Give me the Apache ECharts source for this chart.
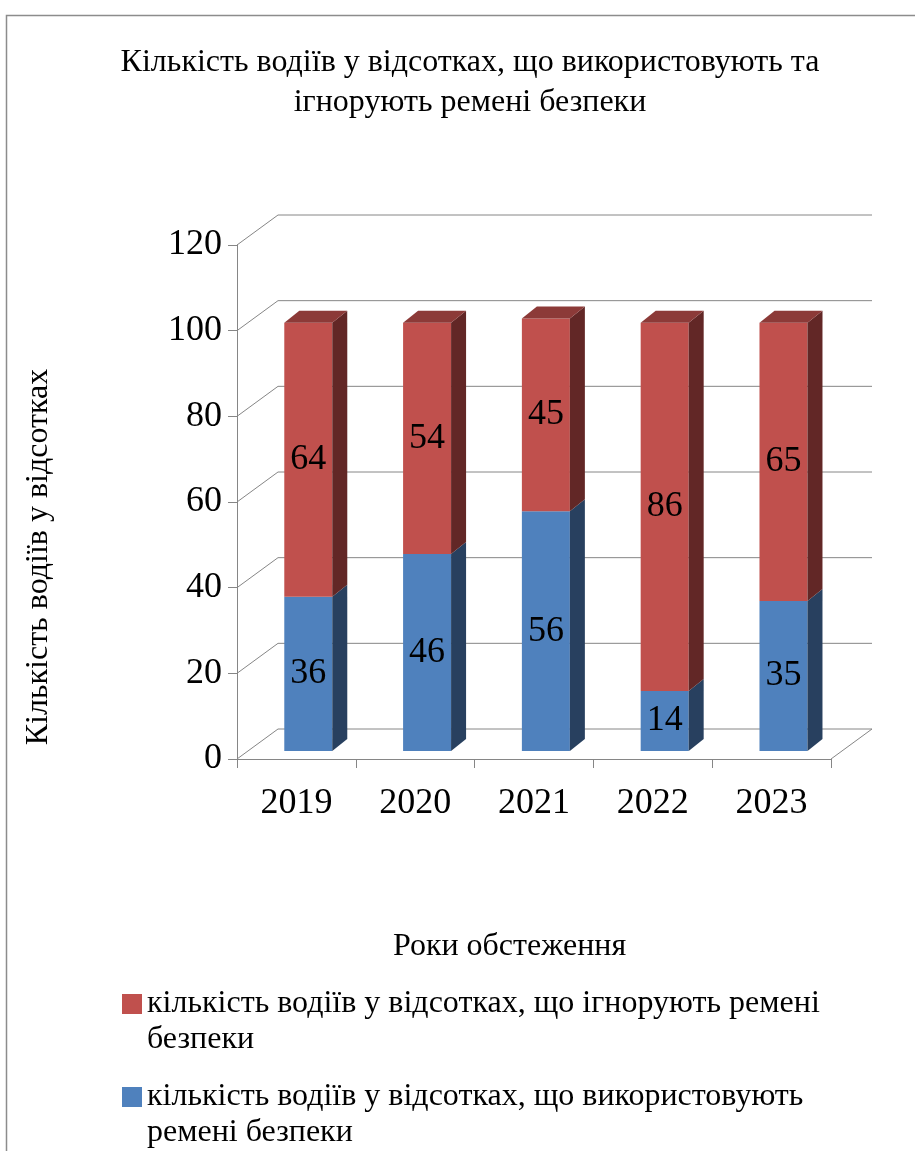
<!DOCTYPE html>
<html><head><meta charset="utf-8">
<script src="https://cdn.jsdelivr.net/npm/echarts@6/dist/echarts.min.js"></script>
<style>html,body{margin:0;padding:0;background:#fff}#c{width:915px;height:1151px}</style>
</head><body><div id="c"></div>
<script>
const categories = ['2019', '2020', '2021', '2022', '2023'];
const usingBelts = [36, 46, 56, 14, 35];
const ignoringBelts = [64, 54, 45, 86, 65];
const yTicks = [0, 20, 40, 60, 80, 100, 120];
const nameIgnore = 'кількість водіїв у відсотках, що ігнорують ремені безпеки';
const nameUse = 'кількість водіїв у відсотках, що використовують ремені безпеки';
const legendWrapAfter = { [nameIgnore]: 'ремені', [nameUse]: 'використовують' };
const titleText = 'Кількість водіїв у відсотках, що використовують та\nігнорують ремені безпеки';
const yName = 'Кількість водіїв у відсотках';
const xName = 'Роки обстеження';

const FONT = '"Liberation Serif", "Times New Roman", serif';
const GRID_COLOR = '#868686';
const WALL_DX = 41, WALL_DY = -30;

const blueData = categories.map((c, i) => [i, 0, usingBelts[i], usingBelts[i], 0]);
const redData = categories.map((c, i) => [i, usingBelts[i], usingBelts[i] + ignoringBelts[i], ignoringBelts[i], 1]);
const wallData = yTicks.map(v => [0, v]);

function barRenderer(front, side, top) {
  return function (params, api) {
    const cat = api.value(0), lo = api.value(1), hi = api.value(2), val = api.value(3), isTop = api.value(4);
    const pLo = api.coord([cat, lo]);
    const pHi = api.coord([cat, hi]);
    const band = api.size([1, 0])[0];
    const w = band * 0.404;
    const ox = band * 0.1, oy = -8;
    const dx = 15, dy = -12;
    const xL = pLo[0] - w / 2 + ox, xR = xL + w;
    const yB = pLo[1] + oy, yT = pHi[1] + oy;
    const children = [
      { type: 'rect', shape: { x: xL, y: yT, width: w, height: yB - yT }, style: { fill: front } },
      { type: 'polygon', shape: { points: [[xR, yT], [xR + dx, yT + dy], [xR + dx, yB + dy], [xR, yB]] }, style: { fill: side } }
    ];
    if (isTop) {
      children.push({ type: 'polygon', shape: { points: [[xL, yT], [xR, yT], [xR + dx, yT + dy], [xL + dx, yT + dy]] }, style: { fill: top } });
    }
    children.push({
      type: 'text',
      style: { text: String(val), x: (xL + xR) / 2, y: (yT + yB) / 2, align: 'center', verticalAlign: 'middle', fill: '#000', font: '36px ' + FONT }
    });
    return { type: 'group', children };
  };
}

function wallRenderer(params, api) {
  const cs = params.coordSys;
  const v = api.value(1);
  const y = api.coord([0, v])[1];
  const x0 = cs.x, x1 = cs.x + cs.width;
  const st = { stroke: GRID_COLOR, lineWidth: 1, fill: null };
  const children = [
    { type: 'polyline', shape: { points: [[x0, y], [x0 + WALL_DX, y + WALL_DY], [x1 + WALL_DX, y + WALL_DY]] }, style: st }
  ];
  if (v === 0) {
    children.push({ type: 'line', shape: { x1: x1, y1: y, x2: x1 + WALL_DX, y2: y + WALL_DY }, style: st });
  }
  return { type: 'group', children };
}

const chart = echarts.init(document.getElementById('c'), null, { renderer: 'canvas' });
chart.setOption({
  animation: false,
  backgroundColor: '#fff',
  title: {
    text: titleText,
    left: 465, top: 38, textAlign: 'center',
    textStyle: { fontFamily: FONT, fontSize: 32, fontWeight: 'normal', color: '#000', lineHeight: 40 }
  },
  graphic: [
    { type: 'rect', shape: { x: 6.5, y: 15.5, width: 1000, height: 2000 }, style: { fill: null, stroke: '#8c8c8c', lineWidth: 1.5 }, z: 0 }
  ],
  legend: {
    orient: 'vertical', left: 122, top: 950, height: 400, padding: 0,
    data: [nameIgnore, nameUse],
    formatter: function (name) {
      const key = legendWrapAfter[name];
      const idx = name.indexOf(key) + key.length;
      // leading blank line keeps the marker level with the first text line
      return '\n' + name.slice(0, idx) + '\n' + name.slice(idx + 1);
    },
    icon: 'rect', itemWidth: 20, itemHeight: 20, itemGap: -15,
    textStyle: { fontFamily: FONT, fontSize: 32, color: '#000', lineHeight: 36 }
  },
  grid: { left: 237, right: 84, top: 245, bottom: 392 },
  xAxis: {
    type: 'category', data: categories,
    name: xName, nameLocation: 'middle', nameGap: 172,
    nameTextStyle: { fontFamily: FONT, fontSize: 32, color: '#000', padding: [0, 49, 0, 0] },
    axisLine: { show: true, lineStyle: { color: GRID_COLOR, width: 1 } },
    axisTick: { show: true, length: 9, interval: 0, lineStyle: { color: GRID_COLOR } },
    axisLabel: { fontFamily: FONT, fontSize: 36, color: '#000', margin: 27, interval: 0 },
    splitLine: { show: false }
  },
  yAxis: {
    type: 'value', min: 0, max: 120, interval: 20,
    name: yName, nameLocation: 'middle', nameGap: 182, nameRotate: 90,
    nameTextStyle: { fontFamily: FONT, fontSize: 32, color: '#000', padding: [0, 110, 0, 0] },
    axisLine: { show: true, lineStyle: { color: GRID_COLOR, width: 1 } },
    axisTick: { show: true, length: 9, lineStyle: { color: GRID_COLOR } },
    axisLabel: { fontFamily: FONT, fontSize: 36, color: '#000', margin: 15 },
    splitLine: { show: false }
  },
  series: [
    { type: 'custom', name: 'wall', renderItem: wallRenderer, data: wallData, z: 1, silent: true, encode: { x: 0, y: 1 } },
    { type: 'custom', name: nameUse, renderItem: barRenderer('#4F81BD', '#28405F', '#3E6896'), data: blueData, z: 2, itemStyle: { color: '#4F81BD' }, encode: { x: 0, y: [1, 2] } },
    { type: 'custom', name: nameIgnore, renderItem: barRenderer('#C0504D', '#622726', '#8C3A38'), data: redData, z: 3, itemStyle: { color: '#C0504D' }, encode: { x: 0, y: [1, 2] } }
  ]
});
</script>
</body></html>
